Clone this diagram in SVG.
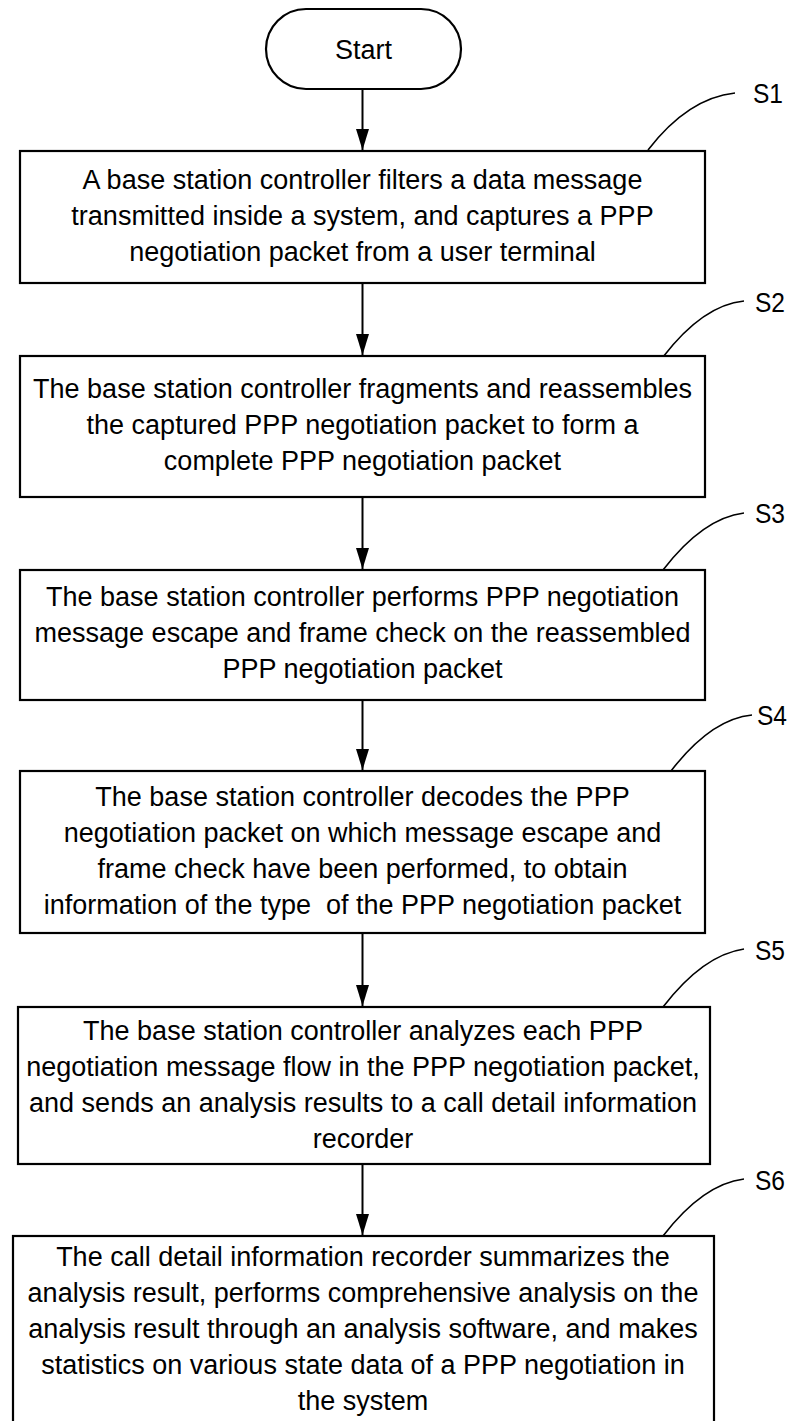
<svg xmlns="http://www.w3.org/2000/svg" width="789" height="1421" viewBox="0 0 789 1421">
<defs>
<marker id="ah" markerUnits="userSpaceOnUse" markerWidth="22" markerHeight="14" refX="21" refY="7" orient="auto" viewBox="0 0 22 14">
<path d="M0,0.5 L21,7 L0,13.5 Z" fill="#000"/>
</marker>
<style>
.box{fill:#fff;stroke:#000;stroke-width:2.2}
.t{font-family:"Liberation Sans",Arial,sans-serif;font-size:27px;fill:#000;text-anchor:middle}
.lbl{font-family:"Liberation Sans",Arial,sans-serif;font-size:28px;fill:#000}
.c{fill:none;stroke:#000;stroke-width:2}
.lead{fill:none;stroke:#000;stroke-width:1.6}
</style>
</defs>
<rect width="789" height="1421" fill="#fff"/>
<g id="connectors">
<line class="c" x1="362.5" y1="89" x2="362.5" y2="150" marker-end="url(#ah)"/>
<line class="c" x1="362.5" y1="283" x2="362.5" y2="355" marker-end="url(#ah)"/>
<line class="c" x1="362.5" y1="497" x2="362.5" y2="569" marker-end="url(#ah)"/>
<line class="c" x1="362.5" y1="700" x2="362.5" y2="770" marker-end="url(#ah)"/>
<line class="c" x1="362.5" y1="933" x2="362.5" y2="1006" marker-end="url(#ah)"/>
<line class="c" x1="362.5" y1="1164" x2="362.5" y2="1235" marker-end="url(#ah)"/>
<path class="lead" d="M648,150 Q688,98 735,93"/>
<path class="lead" d="M663,357 Q703,305 744,301"/>
<path class="lead" d="M663,570 Q703,518 744,513"/>
<path class="lead" d="M671,771 Q711,719 752,715"/>
<path class="lead" d="M663,1007 Q703,955 744,949"/>
<path class="lead" d="M663,1236 Q703,1184 744,1179"/>
</g>
<g id="start">
<rect class="box" x="266" y="9" width="195" height="80" rx="40" ry="40"/>
<text class="t" x="363.5" y="59">Start</text>
</g>
<g id="s1">
<rect class="box" x="20" y="151" width="685" height="132"/>
<text class="t" x="362.5" y="189">A base station controller filters a data message</text>
<text class="t" x="362.5" y="225">transmitted inside a system, and captures a PPP</text>
<text class="t" x="362.5" y="261">negotiation packet from a user terminal</text>
<text class="lbl" x="753" y="103" textLength="30" lengthAdjust="spacingAndGlyphs">S1</text>
</g>
<g id="s2">
<rect class="box" x="20" y="356" width="685" height="141"/>
<text class="t" x="362.5" y="398">The base station controller fragments and reassembles</text>
<text class="t" x="362.5" y="434">the captured PPP negotiation packet to form a</text>
<text class="t" x="362.5" y="470">complete PPP negotiation packet</text>
<text class="lbl" x="755" y="312" textLength="30" lengthAdjust="spacingAndGlyphs">S2</text>
</g>
<g id="s3">
<rect class="box" x="20" y="570" width="685" height="130"/>
<text class="t" x="362.5" y="606">The base station controller performs PPP negotiation</text>
<text class="t" x="362.5" y="642">message escape and frame check on the reassembled</text>
<text class="t" x="362.5" y="678">PPP negotiation packet</text>
<text class="lbl" x="755" y="523" textLength="30" lengthAdjust="spacingAndGlyphs">S3</text>
</g>
<g id="s4">
<rect class="box" x="20" y="771" width="685" height="162"/>
<text class="t" x="362.5" y="806">The base station controller decodes the PPP</text>
<text class="t" x="362.5" y="842">negotiation packet on which message escape and</text>
<text class="t" x="362.5" y="878">frame check have been performed, to obtain</text>
<text class="t" x="362.5" y="914" xml:space="preserve">information of the type  of the PPP negotiation packet</text>
<text class="lbl" x="757" y="725" textLength="30" lengthAdjust="spacingAndGlyphs">S4</text>
</g>
<g id="s5">
<rect class="box" x="18" y="1007" width="692" height="157"/>
<text class="t" x="363" y="1040">The base station controller analyzes each PPP</text>
<text class="t" x="363" y="1076">negotiation message flow in the PPP negotiation packet,</text>
<text class="t" x="363" y="1112">and sends an analysis results to a call detail information</text>
<text class="t" x="363" y="1148">recorder</text>
<text class="lbl" x="755" y="960" textLength="30" lengthAdjust="spacingAndGlyphs">S5</text>
</g>
<g id="s6">
<rect class="box" x="13" y="1236" width="701" height="200"/>
<text class="t" x="363" y="1266">The call detail information recorder summarizes the</text>
<text class="t" x="363" y="1302">analysis result, performs comprehensive analysis on the</text>
<text class="t" x="363" y="1338">analysis result through an analysis software, and makes</text>
<text class="t" x="363" y="1374">statistics on various state data of a PPP negotiation in</text>
<text class="t" x="363" y="1410">the system</text>
<text class="lbl" x="755" y="1190" textLength="30" lengthAdjust="spacingAndGlyphs">S6</text>
</g>
</svg>
